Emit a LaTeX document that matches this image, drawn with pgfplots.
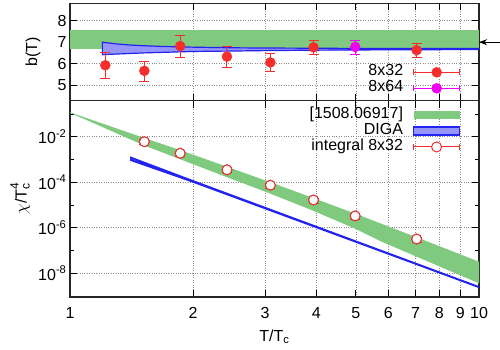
\documentclass[border=0pt]{standalone}
\usepackage{fontspec}
\setmainfont{Liberation Sans}
\usepackage{pgfplots}
\pgfplotsset{compat=1.18}
\usetikzlibrary{arrows.meta}

\definecolor{gband}{RGB}{128,202,128}
\definecolor{bfill}{RGB}{150,150,250}
\definecolor{bline}{RGB}{35,35,240}
\definecolor{dred}{RGB}{245,45,45}
\definecolor{mag}{RGB}{240,0,240}

\begin{document}
\begin{tikzpicture}[font=\fontsize{16}{19}\selectfont]
\path[use as bounding box] (-70pt,-53pt) rectangle (430pt,297pt);

% upper panel: b(T)
\begin{axis}[name=top, at={(0pt,196.3pt)}, anchor=south west,
    scale only axis, width=409pt, height=97.4pt,
    xmode=log, xmin=1, xmax=10,
    xtick={1,2,3,4,5,6,7,8,9,10}, minor xtick={}, xticklabels={},
    ymin=4.28, ymax=8.81, ytick={5,6,7,8}, yticklabels={5,6,7,8},
    tick align=inside, major tick length=7pt,
    tick style={line width=0.8pt, black},
    axis line style={line width=1.4pt, black!85},
    grid=major, grid style={dotted, line width=0.6pt, black!45},
    ylabel={b(T)},
    ylabel style={at={(axis description cs:-0.0905,0.5)}, anchor=center},
    legend style={at={(0.954,0.045)}, anchor=south east,
      draw=none, fill=none, inner sep=0pt, outer sep=0pt, column sep=10pt,
      nodes={inner sep=0pt, text height=11.5pt, text depth=4.5pt}},
    legend cell align=right, legend plot pos=right,
    clip mode=individual]
\addplot[fill=gband, draw=none, forget plot]
  coordinates {(1,6.67) (10,6.67) (10,7.55) (1,7.55)} -- cycle;
\addplot[fill=bfill, draw=bline, line width=1.2pt, forget plot]
  coordinates {(1.2,7.00) (1.3,6.92) (1.4,6.87) (1.5,6.84) (1.7,6.80)
    (2,6.77) (2.5,6.74) (3,6.73) (4,6.72) (5,6.71) (7,6.71) (10,6.71)
    (10,6.66) (7,6.65) (5,6.64) (4,6.63) (3,6.61) (2.5,6.59) (2,6.57)
    (1.7,6.53) (1.5,6.50) (1.3,6.45) (1.2,6.42)} -- cycle;
\addplot[only marks, mark=*, mark size=5pt, color=dred,
    legend image code/.code={
      \draw[dred, line width=1pt] (0pt,0pt) -- (46pt,0pt)
        (0pt,-3pt) -- (0pt,3pt) (46pt,-3pt) -- (46pt,3pt);
      \fill[dred] (23pt,0pt) circle (5pt);},
    error bars/.cd, y dir=both, y explicit,
    error bar style={line width=1pt}]
  coordinates {
    (1.22,5.93) +- (0,0.60)
    (1.52,5.67) +- (0,0.47)
    (1.86,6.82) +- (0,0.50)
    (2.42,6.33) +- (0,0.47)
    (3.09,6.06) +- (0,0.43)
    (3.94,6.76) +- (0,0.33)
    (7.04,6.63) +- (0,0.32)
  };
\addlegendentry{8x32}
\addplot[only marks, mark=*, mark size=5pt, color=mag,
    legend image code/.code={
      \draw[mag, line width=1pt] (0pt,0pt) -- (46pt,0pt)
        (0pt,-3pt) -- (0pt,3pt) (46pt,-3pt) -- (46pt,3pt);
      \fill[mag] (23pt,0pt) circle (5pt);},
    error bars/.cd, y dir=both, y explicit,
    error bar style={line width=1pt}]
  coordinates {(4.98,6.78) +- (0,0.33)};
\addlegendentry{8x64}
\draw[-{Stealth[length=8pt,width=6pt]}, line width=1pt, black]
  (axis cs:10,7) ++(21pt,0pt) -- (axis cs:10,7);
\end{axis}

% lower panel: chi/Tc^4
\begin{axis}[name=bot, at={(0pt,0pt)}, anchor=south west,
    scale only axis, width=409pt, height=196.3pt,
    xmode=log, xmin=1, xmax=10,
    xtick={1,2,3,4,5,6,7,8,9,10}, minor xtick={},
    xticklabels={1,2,3,4,5,6,7,8,9,10},
    xticklabel style={yshift=-7pt},
    ymode=log, ymin=9.1e-10, ymax=0.38,
    ytick={1e-8,1e-6,1e-4,1e-2},
    yticklabels={10\textsuperscript{-8},10\textsuperscript{-6},10\textsuperscript{-4},10\textsuperscript{-2}},
    minor ytick={1e-9,1e-7,1e-5,1e-3,1e-1},
    tick align=inside, major tick length=7pt, minor tick length=4pt,
    tick style={line width=0.8pt, black},
    axis line style={line width=1.4pt, black!85},
    grid=major, grid style={dotted, line width=0.6pt, black!45},
    xlabel={T/T\textsubscript{c}},
    xlabel style={yshift=-4pt},
    ylabel={$\chi$/T\rlap{\raisebox{8pt}{\fontsize{12}{12}\selectfont 4}}\raisebox{-3pt}{\fontsize{12}{12}\selectfont c}},
    ylabel style={at={(axis description cs:-0.122,0.5)}, anchor=center},
    legend style={at={(0.954,0.968)}, anchor=north east,
      draw=none, fill=none, inner sep=0pt, outer sep=0pt, column sep=10pt,
      nodes={inner sep=0pt, text height=11.5pt, text depth=4.5pt}},
    legend cell align=right, legend plot pos=right]
\addplot[fill=gband, draw=none,
    legend image code/.code={\fill[gband] (0pt,-4pt) rectangle (46pt,4pt);}]
  coordinates {(1,0.1175) (1.52,8.71e-3) (1.86,2.57e-3) (2.42,4.8e-4)
    (3.09,1.0e-4) (3.94,2.0e-5) (4.98,4.17e-6) (5.73,1.58e-6)
    (7.04,3.80e-7) (10,3.24e-8)
    (10,3.63e-9) (7.04,5.37e-8) (5.73,2.63e-7) (4.98,9.1e-7)
    (3.94,5.5e-6) (3.09,3.16e-5) (2.42,1.66e-4) (1.86,1.02e-3)
    (1.52,4.07e-3) (1,0.1122)} -- cycle;
\addlegendentry{[1508.06917]}
\addplot[fill=bfill, draw=bline, line width=1.8pt,
    legend image code/.code={\filldraw[fill=bfill, draw=bline, line width=1.2pt]
      (0pt,-4pt) rectangle (46pt,4pt);}]
  coordinates {(1.41,1.2e-3) (2,1.12e-4) (10,2.5e-9)
    (10,2.45e-9) (2,1.04e-4) (1.41,9.3e-4)} -- cycle;
\addlegendentry{DIGA}
\addplot[only marks, mark=*, mark size=5pt, draw=none, fill=white, forget plot]
  coordinates {(1.52,6.0e-3) (1.86,1.87e-3) (2.42,3.5e-4) (3.09,7.4e-5)
    (3.94,1.66e-5) (4.98,3.3e-6) (7.04,3.2e-7)};
\addplot[only marks, mark=o, mark size=5pt, color=dred, mark options={line width=1pt},
    legend image code/.code={
      \draw[dred, line width=1pt] (0pt,0pt) -- (46pt,0pt)
        (0pt,-3pt) -- (0pt,3pt) (46pt,-3pt) -- (46pt,3pt);
      \filldraw[fill=white, draw=dred, line width=1pt] (23pt,0pt) circle (5pt);},
    error bars/.cd, y dir=both, y explicit relative,
    error bar style={line width=1pt}]
  coordinates {
    (1.52,6.0e-3) +- (0,0.25)
    (1.86,1.87e-3) +- (0,0.25)
    (2.42,3.5e-4) +- (0,0.25)
    (3.09,7.4e-5) +- (0,0.25)
    (3.94,1.66e-5) +- (0,0.25)
    (4.98,3.3e-6) +- (0,0.25)
    (7.04,3.2e-7) +- (0,0.25)
  };
\addlegendentry{integral 8x32}
\end{axis}
\end{tikzpicture}
\end{document}
